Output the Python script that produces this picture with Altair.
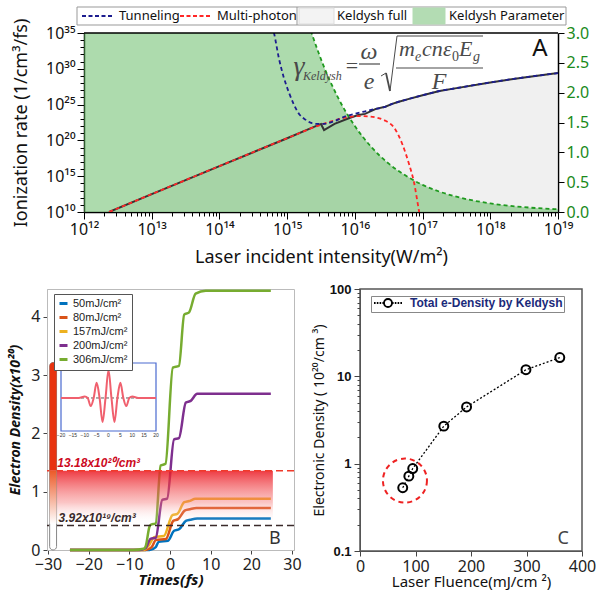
import json
import altair as alt
import pandas as pd

SANS = "Noto Sans"
SERIF = "Liberation Serif"
ARIAL = "Liberation Sans"
FORMULA = "#4a4a4a"

# ======================= Panel A data =======================
a_x_tick_labels = ["10¹²", "10¹³", "10¹⁴", "10¹⁵", "10¹⁶", "10¹⁷", "10¹⁸", "10¹⁹"]
a_y_tick_labels = ["10¹⁰", "10¹⁵", "10²⁰", "10²⁵", "10³⁰", "10³⁵"]
a_gamma_ticks = [0.0, 0.5, 1.0, 1.5, 2.0, 2.5, 3.0]
a_legend_names = ["Tunneling", "Multi-photon", "Keldysh full", "Keldysh Parameter"]

# log10(intensity W/m^2), log10(rate 1/cm^3/fs)
full_log_I = [12.37, 13.0, 14.0, 15.0, 15.3, 15.5, 15.545, 15.7, 15.91, 16.05, 16.15, 16.31,
              16.45, 16.55, 16.65, 16.8, 17.0, 17.25, 17.5, 18.0, 18.5, 19.0]
full_log_R = [10.0, 12.5, 16.4, 20.3, 21.5, 22.3, 21.45, 22.3, 23.1, 23.55, 23.7, 24.4,
              24.7, 25.1, 25.4, 25.8, 26.3, 26.9, 27.3, 28.1, 28.8, 29.4]
tun_log_I = [14.78, 14.806, 14.88, 14.95, 15.03, 15.1, 15.176, 15.27, 15.368, 15.45, 15.516,
             15.6, 15.7, 15.87, 16.0, 16.165, 16.31, 16.45, 16.55, 16.65, 16.8, 17.0, 17.25,
             17.5, 18.0, 18.5, 19.0]
tun_log_R = [36.0, 35.0, 31.4, 28.8, 26.6, 25.0, 23.7, 22.9, 22.4, 22.3, 22.3,
             22.4, 22.7, 23.4, 23.7, 24.1, 24.4, 24.7, 25.1, 25.4, 25.8, 26.3, 26.9,
             27.3, 28.1, 28.8, 29.4]
mp_log_I = [12.37, 13.0, 14.0, 15.0, 15.5, 15.7, 15.9, 16.05, 16.2, 16.46, 16.6, 16.7,
            16.8, 16.87, 16.95, 16.98]
mp_log_R = [10.0, 12.5, 16.4, 20.3, 22.2, 22.8, 23.25, 23.4, 23.35, 22.7, 21.5, 19.5,
            16.7, 14.3, 10.0, 8.5]
kp_log_I = [12.0, 13.0, 14.0, 14.5, 15.0, 15.25, 15.5, 15.75, 16.0, 16.25, 16.5, 16.75,
            17.0, 17.25, 17.5, 17.75, 18.0, 18.5, 19.0]
kp_gamma = [143.9, 45.5, 14.39, 8.09, 4.55, 3.41, 2.56, 1.92, 1.44, 1.08, 0.81, 0.61,
            0.455, 0.341, 0.256, 0.192, 0.144, 0.081, 0.046]

# ======================= Panel B data =======================
b_labels = ["50mJ/cm²", "80mJ/cm²", "157mJ/cm²", "200mJ/cm²", "306mJ/cm²"]
b_colors = ["#0072BD", "#D95319", "#EDB120", "#7E2F8E", "#77AC30"]
b_t = [
    [-24.6, -5.0, -3.5, -2.8, -0.5, 1.0, 2.3, 3.9, 5.0, 6.7, 24.8],
    [-24.6, -6.0, -4.5, -3.5, -1.0, 0.8, 2.0, 3.7, 4.9, 6.5, 24.8],
    [-24.6, -6.5, -5.2, -3.9, -1.5, 0.6, 1.8, 3.5, 4.7, 6.3, 24.8],
    [-24.6, -7.5, -6.0, -4.8, -3.5, -1.9, -0.7, 1.0, 2.2, 3.9, 5.1, 6.7, 24.8],
    [-24.6, -9.0, -6.5, -6.0, -5.0, -4.8, -3.5, -2.3, -1.1, 0.7, 2.2, 3.5, 4.7, 6.3, 8.8, 24.8],
]
b_d = [
    [0, 0, 0.05, 0.14, 0.16, 0.33, 0.36, 0.50, 0.52, 0.54, 0.54],
    [0, 0, 0.05, 0.17, 0.19, 0.50, 0.53, 0.68, 0.70, 0.72, 0.72],
    [0, 0, 0.08, 0.22, 0.24, 0.60, 0.62, 0.82, 0.84, 0.88, 0.88],
    [0, 0, 0.03, 0.19, 0.21, 0.86, 0.88, 1.90, 1.92, 2.53, 2.56, 2.68, 2.68],
    [0, 0, 0.02, 0.06, 0.41, 0.43, 0.46, 1.45, 1.48, 3.13, 3.16, 4.04, 4.08, 4.40, 4.45, 4.45],
]
b_x_ticks = [-30, -20, -10, 0, 10, 20, 30]
b_y_ticks = [0, 1, 2, 3, 4]
b_threshold_red = 1.36
b_threshold_black = 0.42
b_label_red = "13.18x10²⁰/cm³"
b_label_black = "3.92x10¹⁹/cm³"
inset_t = [-20, -12.5, -10, -8.75, -7.5, -6.25, -5, -3.75, -2.5, -1.25, 0, 1.25, 2.5, 3.75,
           5, 6.25, 7.5, 8.75, 10, 12.5, 20]
inset_v = [0, 0, 0.05, 0, -0.29, 0, 0.54, 0, -0.86, 0, 1.0, 0, -0.86, 0, 0.54, 0, -0.29, 0,
           0.05, 0, 0]
inset_ticks = [-20, -15, -10, -5, 0, 5, 10, 15, 20]

# ======================= Panel C data =======================
c_fluence = [77, 88, 95, 151, 192, 299, 360]
c_density = [0.53, 0.72, 0.88, 2.69, 4.46, 11.9, 16.4]
c_y_tick_labels = ["0.1", "1", "10", "100"]
c_x_ticks = [0, 50, 100, 150, 200, 250, 300, 350, 400]
c_legend_label = "Total e-Density by Keldysh"


def p10(v):
    return [10.0 ** x for x in v]


one = pd.DataFrame({"k": [0]})
LG = "(log(datum.value)/LN10)"
IS_DEC = f"abs({LG} - round({LG})) < 0.001"

# ======================= Panel A chart =======================
xA = alt.Scale(type="log", domain=[1e12, 1e19], range=[37, 511], nice=False)
yA = alt.Scale(type="log", domain=[1e10, 1e35], nice=False)
gA = alt.Scale(domain=[0, 3], nice=False)

a_x_values = [float(k) * 10.0 ** e for e in range(12, 19) for k in range(1, 10)] + [1e19]
a_y_values = [10.0 ** e for e in range(10, 36)]
IS_MAJ5 = f"{IS_DEC} && round({LG}) % 5 == 0"

axis_xA = alt.Axis(
    values=a_x_values,
    labelExpr=f"{IS_DEC} ? {json.dumps(a_x_tick_labels, ensure_ascii=False)}[round({LG}) - 12] : ''",
    tickSize={"condition": {"test": IS_DEC, "value": 7}, "value": 4},
    labelOverlap=False, labelFlush=False, labelBound=False,
    labelFont=SANS, labelFontSize=16, labelColor="#111", labelPadding=2,
    tickColor="black", domainColor="black", domainWidth=1.5, grid=False,
    titleFont=SANS, titleFontSize=18, titleFontWeight="normal", titleColor="#111", titlePadding=11,
)
axis_yA = alt.Axis(
    values=a_y_values, orient="left", offset=-37,
    labelExpr=f"{IS_MAJ5} ? {json.dumps(a_y_tick_labels, ensure_ascii=False)}[(round({LG}) - 10) / 5] : ''",
    tickSize={"condition": {"test": IS_MAJ5, "value": 7}, "value": 4},
    labelOverlap=False, labelFlush=False, labelBound=False,
    labelFont=SANS, labelFontSize=16, labelColor="#111", labelPadding=2,
    tickColor="black", domainColor="black", domainWidth=1.5, grid=False,
    titleFont=SANS, titleFontSize=18, titleFontWeight="normal", titleColor="#111", titlePadding=15,
)
axis_gA = alt.Axis(
    orient="right", values=a_gamma_ticks, format=".1f", labelFont=SANS, labelFontSize=16,
    labelColor="#1a8a1a", tickColor="black", tickSize=6, domainColor="black", domainWidth=1.5,
    grid=False, title=None, labelFlush=False,
)

NAVY, RED, GREEN_FILL, GRAY_FILL = "#1c1c8f", "#ff2626", "#5cb85c", "#e2e2e2"

df_full = pd.DataFrame({"I": p10(full_log_I), "R": p10(full_log_R)})
df_tun = pd.DataFrame({"I": p10(tun_log_I), "R": p10(tun_log_R)})
df_mp = pd.DataFrame({"I": p10(mp_log_I), "R": p10(mp_log_R)})
df_kp = pd.DataFrame({"I": p10(kp_log_I), "g": kp_gamma})
df_frame = pd.DataFrame({"I": [1e12], "I2": [1e19]})

gray_area = alt.Chart(df_full).mark_area(opacity=0.5, color=GRAY_FILL).encode(
    x=alt.X("I:Q", scale=xA, axis=axis_xA, title="Laser incident intensity(W/m²)"),
    y=alt.Y("R:Q", scale=yA, axis=axis_yA, title="Ionization rate (1/cm³/fs)"),
    y2=alt.datum(1e10),
)
green_area = alt.Chart(df_kp).mark_area(opacity=0.5, color=GREEN_FILL, clip=True,
                                        interpolate="monotone").encode(
    x=alt.X("I:Q", scale=xA),
    y=alt.Y("g:Q", scale=gA, axis=axis_gA),
    y2=alt.datum(0),
)
green_line = alt.Chart(df_kp).mark_line(color="#1f9a1f", strokeDash=[4, 3], strokeWidth=1.8,
                                        clip=True, interpolate="monotone").encode(
    x=alt.X("I:Q", scale=xA),
    y=alt.Y("g:Q", scale=gA, axis=None),
)
black_line = alt.Chart(df_full).mark_line(color="#333", strokeWidth=2, clip=True).encode(
    x=alt.X("I:Q", scale=xA),
    y=alt.Y("R:Q", scale=yA, axis=None),
)
red_line = alt.Chart(df_mp).mark_line(color=RED, strokeDash=[4, 3], strokeWidth=1.8, clip=True,
                                      interpolate="monotone").encode(
    x=alt.X("I:Q", scale=xA),
    y=alt.Y("R:Q", scale=yA, axis=None),
)
navy_line = alt.Chart(df_tun).mark_line(color=NAVY, strokeDash=[4, 3], strokeWidth=1.8, clip=True,
                                        interpolate="monotone").encode(
    x=alt.X("I:Q", scale=xA),
    y=alt.Y("R:Q", scale=yA, axis=None),
)
top_rule = alt.Chart(df_frame).mark_rule(color="black", strokeWidth=1.5).encode(
    x=alt.X("I:Q", scale=xA), x2="I2:Q", y=alt.value(0))


def txt(s, x, y, size, font=SERIF, style="italic", align="left", color=FORMULA, weight="normal",
        baseline="alphabetic"):
    return alt.Chart(one).mark_text(
        text=s, font=font, fontSize=size, fontStyle=style, fontWeight=weight,
        align=align, baseline=baseline, color=color,
    ).encode(x=alt.value(x), y=alt.value(y))


def seg(x1, y1, x2, y2, w=1.2, color=FORMULA, dash=None):
    kw = {"strokeDash": dash} if dash else {}
    return alt.Chart(one).mark_rule(color=color, strokeWidth=w, **kw).encode(
        x=alt.value(x1), y=alt.value(y1), x2=alt.value(x2), y2=alt.value(y2))


def box(x1, y1, x2, y2, fill, stroke="#999", opacity=1.0):
    return alt.Chart(one).mark_rect(fill=fill, stroke=stroke, strokeWidth=1, opacity=opacity).encode(
        x=alt.value(x1), x2=alt.value(x2), y=alt.value(y1), y2=alt.value(y2))


# legend of panel A (above the plot)
legendA = [
    box(30, -26, 519, -8, "white"),
    seg(35, -17, 67, -17, 2, NAVY, [4, 2.5]),
    txt(a_legend_names[0], 72, -17, 13, font=SANS, style="normal", color="#111", baseline="middle"),
    seg(133, -17, 165, -17, 2, RED, [4, 2.5]),
    txt(a_legend_names[1], 170, -17, 13, font=SANS, style="normal", color="#111", baseline="middle"),
    seg(250, -26, 250, -8, 1, "#999"),
    box(252, -25, 287, -9, "#f3f3f3", "#ddd"),
    txt(a_legend_names[2], 290, -17, 13, font=SANS, style="normal", color="#111", baseline="middle"),
    box(366, -25, 398, -9, "#b3dcb3", "#b3dcb3"),
    txt(a_legend_names[3], 402, -17, 13, font=SANS, style="normal", color="#111", baseline="middle"),
]

formula = [
    txt("γ", 252, 42, 28, align="center"),
    txt("Keldysh", 256, 47, 12),
    txt("=", 305, 40, 22, style="normal", align="center"),
    txt("ω", 322, 26, 24, align="center"),
    seg(312, 31, 333, 31),
    txt("e", 322, 56, 24, align="center"),
    seg(334, 43, 339, 40, 1.0), seg(339, 40, 343, 58, 1.8), seg(343, 58, 350, 3, 1.0),
    seg(350, 3, 436, 3, 1.2),
    txt("m", 352, 23, 22), txt("e", 368, 28, 14), txt("cn", 375, 23, 22),
    txt("ε", 396, 23, 22), txt("0", 405, 28, 14, style="normal"), txt("E", 412, 23, 22),
    txt("g", 426, 28, 14),
    seg(349, 35, 436, 35),
    txt("F", 392, 56, 24, align="center"),
    txt("A", 493, 23, 24, font=SANS, style="normal", align="center", color="#111"),
]

chartA = alt.layer(
    gray_area, green_area, green_line, black_line, red_line, navy_line, top_rule,
    *legendA, *formula,
).resolve_scale(y="independent").properties(
    width=511, height=179, view=alt.ViewBackground(stroke="transparent"))

# ======================= Panel B chart =======================
rows = []
for lab, ts, ds in zip(b_labels, b_t, b_d):
    for i, (t, d) in enumerate(zip(ts, ds)):
        rows.append({"s": lab, "t": t, "d": d, "o": i})
df_b = pd.DataFrame(rows)

xB = alt.Scale(domain=[-30.25, 30.5], nice=False)
yB = alt.Scale(domain=[0, 4.48], nice=False)
axis_xB = alt.Axis(values=b_x_ticks, format="d", labelFont=SANS, labelFontSize=16,
                   labelColor="#222", tickSize=4, tickColor="#444", domainColor="#bbb",
                   grid=False, labelFlush=False, labelOverlap=False, labelPadding=2,
                   titleFont=SANS, titleFontSize=15, titleFontWeight="bold",
                   titleFontStyle="italic", titleColor="#111", titlePadding=0)
axis_yB = alt.Axis(values=b_y_ticks, format="d", labelFont=SANS, labelFontSize=16,
                   labelColor="#222", tickSize=4, tickColor="#444", domainColor="#bbb",
                   grid=False, labelFlush=False, labelOverlap=False, labelPadding=3,
                   titleFont=SANS, titleFontSize=14, titleFontWeight="bold",
                   titleFontStyle="italic", titleColor="#111", titlePadding=8)
leg_B = alt.Legend(orient="none", legendX=7, legendY=5, title=None, symbolType="stroke",
                   symbolSize=64, symbolStrokeWidth=3, labelFont=ARIAL, labelFontSize=11,
                   labelColor="#222", labelOffset=4, rowPadding=1, padding=4,
                   strokeColor="#555", fillColor="white")

b_lines = alt.Chart(df_b).mark_line(strokeWidth=2.5, interpolate="monotone").encode(
    x=alt.X("t:Q", scale=xB, axis=axis_xB, title="Times(fs)"),
    y=alt.Y("d:Q", scale=yB, axis=axis_yB, title="Electron Density(x10²⁰)"),
    color=alt.Color("s:N", scale=alt.Scale(domain=b_labels, range=b_colors), legend=leg_B),
    order="o:Q",
)

band_grad = alt.LinearGradient(
    gradient="linear", x1=0, x2=0, y1=0, y2=1,
    stops=[alt.GradientStop(color="rgba(235,25,35,0.85)", offset=0),
           alt.GradientStop(color="rgba(245,110,110,0.4)", offset=0.6),
           alt.GradientStop(color="rgba(255,255,255,0)", offset=1)])
b_band = alt.Chart(pd.DataFrame({"x": [-28.2], "x2": [25.3], "y": [b_threshold_red],
                                 "y2": [0.45]})).mark_rect(fill=band_grad).encode(
    x=alt.X("x:Q", scale=xB), x2="x2:Q",
    y=alt.Y("y:Q", scale=yB), y2="y2:Q")
rule_red = alt.Chart(pd.DataFrame({"y": [b_threshold_red]})).mark_rule(
    color="#f03a2a", strokeDash=[7, 4], strokeWidth=1.5).encode(
    y=alt.Y("y:Q", scale=yB))
rule_black = alt.Chart(pd.DataFrame({"y": [b_threshold_black]})).mark_rule(
    color="#3a2a2a", strokeDash=[7, 4], strokeWidth=1.5).encode(
    y=alt.Y("y:Q", scale=yB))

bar_x = pd.DataFrame({"x": [-29.6], "x2": [-27.9]})
cb_outline = alt.Chart(bar_x.assign(y=0.0, y2=3.22)).mark_rect(
    fill="white", stroke="#888", strokeWidth=1, cornerRadius=5).encode(
    x=alt.X("x:Q", scale=xB), x2="x2:Q",
    y=alt.Y("y:Q", scale=yB), y2="y2:Q")
cb_red = alt.Chart(bar_x.assign(y=b_threshold_red, y2=3.22)).mark_rect(
    fill="#e8330f", cornerRadiusTopLeft=5, cornerRadiusTopRight=5).encode(
    x=alt.X("x:Q", scale=xB), x2="x2:Q",
    y=alt.Y("y:Q", scale=yB), y2="y2:Q")
cb_grad = alt.LinearGradient(
    gradient="linear", x1=0, x2=0, y1=0, y2=1,
    stops=[alt.GradientStop(color="#ec5a28", offset=0),
           alt.GradientStop(color="#ffffff", offset=1)])
cb_fade = alt.Chart(bar_x.assign(y=0.45, y2=b_threshold_red)).mark_rect(fill=cb_grad).encode(
    x=alt.X("x:Q", scale=xB), x2="x2:Q",
    y=alt.Y("y:Q", scale=yB), y2="y2:Q")

lab_red = alt.Chart(pd.DataFrame({"x": [-27.7], "y": [b_threshold_red], "t": [b_label_red]})).mark_text(
    align="left", baseline="bottom", dy=-1, font=ARIAL, fontSize=12, fontWeight="bold",
    fontStyle="italic", color="#cc0a1e").encode(
    x=alt.X("x:Q", scale=xB), y=alt.Y("y:Q", scale=yB), text="t:N")
lab_black = alt.Chart(pd.DataFrame({"x": [-27.4], "y": [b_threshold_black], "t": [b_label_black]})).mark_text(
    align="left", baseline="bottom", dy=-1, font=ARIAL, fontSize=12, fontWeight="bold",
    fontStyle="italic", color="#3a2a2a").encode(
    x=alt.X("x:Q", scale=xB), y=alt.Y("y:Q", scale=yB), text="t:N")
lab_B = alt.Chart(pd.DataFrame({"x": [25.8], "y": [0.1], "t": ["B"]})).mark_text(
    align="center", baseline="alphabetic", font=SANS, fontSize=18, color="#333").encode(
    x=alt.X("x:Q", scale=xB), y=alt.Y("y:Q", scale=yB), text="t:N")

b_main = alt.layer(b_lines, b_band, rule_red, rule_black, cb_outline, cb_fade, cb_red,
                   lab_red, lab_black, lab_B)

xI = alt.Scale(domain=[-20, 20], range=[14, 109], nice=False)
yI = alt.Scale(domain=[-1.18, 1.25], range=[142, 74], nice=False)
df_in = pd.DataFrame({"t": inset_t, "v": inset_v})
in_box = alt.Chart(pd.DataFrame({"x": [-20], "x2": [20], "y": [-1.18], "y2": [1.25]})).mark_rect(
    fill="white", stroke="#4a6ad0", strokeWidth=1.2).encode(
    x=alt.X("x:Q", scale=xI, axis=None), x2="x2:Q",
    y=alt.Y("y:Q", scale=yI, axis=None), y2="y2:Q")
in_base = alt.Chart(pd.DataFrame({"x": [-20], "x2": [20], "y": [0]})).mark_rule(
    color="#333", strokeDash=[3, 2], strokeWidth=0.8).encode(
    x=alt.X("x:Q", scale=xI, axis=None), x2="x2:Q", y=alt.Y("y:Q", scale=yI, axis=None))
in_wave = alt.Chart(df_in).mark_line(color="#f0606e", strokeWidth=2, interpolate="monotone").encode(
    x=alt.X("t:Q", scale=xI, axis=None), y=alt.Y("v:Q", scale=yI, axis=None))
in_arrow = alt.Chart(pd.DataFrame({"x": [-4.4], "x2": [2.0], "y": [1.1]})).mark_rule(
    color="#1e8c2e", strokeWidth=2).encode(
    x=alt.X("x:Q", scale=xI, axis=None), x2="x2:Q", y=alt.Y("y:Q", scale=yI, axis=None))
in_head = alt.Chart(pd.DataFrame({"x": [2.6], "y": [1.1]})).mark_point(
    shape="triangle-right", filled=True, size=30, color="#1e8c2e", opacity=1).encode(
    x=alt.X("x:Q", scale=xI, axis=None), y=alt.Y("y:Q", scale=yI, axis=None))
in_ticks = alt.Chart(pd.DataFrame({"t": inset_ticks})).mark_text(
    fontSize=5, font=ARIAL, baseline="top", dy=2, color="#333").encode(
    x=alt.X("t:Q", scale=xI, axis=None), y=alt.datum(-1.18), text="t:Q")
b_inset = alt.layer(in_box, in_base, in_wave, in_arrow, in_head, in_ticks)

chartB = alt.layer(b_main, b_inset).resolve_scale(x="independent", y="independent").properties(
    width=247, height=261, view=alt.ViewBackground(stroke="#bbb", strokeWidth=1))

# ======================= Panel C chart =======================
xC = alt.Scale(domain=[0, 400], nice=False)
yC = alt.Scale(type="log", domain=[0.1, 100], nice=False)
c_y_values = [float(k) * 10.0 ** e for e in (-1, 0, 1) for k in range(1, 10)] + [100.0]
axis_xC = alt.Axis(values=c_x_ticks, labelExpr="datum.value % 100 == 0 ? datum.label : ''",
                   labelFont=SANS, labelFontSize=16, labelColor="#222", tickSize=5,
                   tickColor="#444", domainColor="#555", grid=False, labelFlush=False,
                   labelPadding=2, labelOverlap=False, titleFont=SANS, titleFontSize=15,
                   titleFontWeight="normal", titleColor="#111", titlePadding=0)
axis_yC = alt.Axis(values=c_y_values,
                   labelExpr=f"{IS_DEC} ? {json.dumps(c_y_tick_labels)}[round({LG}) + 1] : ''",
                   tickSize={"condition": {"test": IS_DEC, "value": 6}, "value": 3},
                   labelFont=ARIAL, labelFontSize=13, labelFontWeight="bold", labelColor="#111",
                   tickColor="#444", domainColor="#555", grid=False, labelFlush=False,
                   labelOverlap=False, labelBound=False, labelPadding=3, titleFont=SANS,
                   titleFontSize=14, titleFontWeight="normal", titleColor="#111", titlePadding=3)
df_c = pd.DataFrame({"f": c_fluence, "n": c_density, "name": c_legend_label})
leg_path = ("M-1,0H-0.6M-0.3,0H0.1M0.4,0H0.8M1.1,0H1.5"
            "M3.5,0A1,1 0 1 1 1.5,0A1,1 0 1 1 3.5,0"
            "M3.5,0H3.9M4.2,0H4.6M4.9,0H5.3M5.6,0H6")
leg_C = alt.Legend(orient="none", legendX=11, legendY=7, title=None, symbolType=leg_path,
                   symbolSize=64, symbolStrokeWidth=1.8, labelOffset=26, labelFont=ARIAL,
                   labelFontSize=12, labelFontWeight="bold", labelColor="#1b2a7a", padding=1,
                   strokeColor="#888", fillColor="white")
c_line = alt.Chart(df_c).mark_line(color="black", strokeDash=[2, 2], strokeWidth=1.3).encode(
    x=alt.X("f:Q", scale=xC, axis=axis_xC, title="Laser Fluence(mJ/cm ²)"),
    y=alt.Y("n:Q", scale=yC, axis=axis_yC, title="Electronic Density ( 10²⁰/cm ³)"),
)
c_pts = alt.Chart(df_c).mark_point(filled=False, size=80, strokeWidth=2, opacity=1).encode(
    x=alt.X("f:Q", scale=xC), y=alt.Y("n:Q", scale=yC),
    color=alt.Color("name:N", scale=alt.Scale(domain=[c_legend_label], range=["black"]),
                    legend=leg_C),
)
c_circle = alt.Chart(pd.DataFrame({"f": [81], "n": [0.64]})).mark_point(
    shape="circle", filled=False, size=1936, color="#ee2222", strokeDash=[5, 4],
    strokeWidth=2, opacity=1).encode(
    x=alt.X("f:Q", scale=xC), y=alt.Y("n:Q", scale=yC))
c_lab = alt.Chart(pd.DataFrame({"f": [366], "n": [0.12], "t": ["C"]})).mark_text(
    align="center", baseline="alphabetic", font=SANS, fontSize=18, color="#444").encode(
    x=alt.X("f:Q", scale=xC), y=alt.Y("n:Q", scale=yC), text="t:N")

chartC = alt.layer(c_line, c_circle, c_pts, c_lab).properties(
    width=222, height=262, view=alt.ViewBackground(stroke="#555", strokeWidth=1.5))

# ======================= compose =======================
row2 = alt.hconcat(chartB, chartC, spacing=9).resolve_scale(color="independent")
chart = alt.vconcat(chartA, row2, spacing=15).resolve_scale(color="independent").properties(
    padding={"left": 8, "top": 6, "right": 2, "bottom": 0},
).configure(font=SANS).configure_view(stroke=None)

chart.save("out.html", embed_options={"renderer": "svg", "actions": False})
